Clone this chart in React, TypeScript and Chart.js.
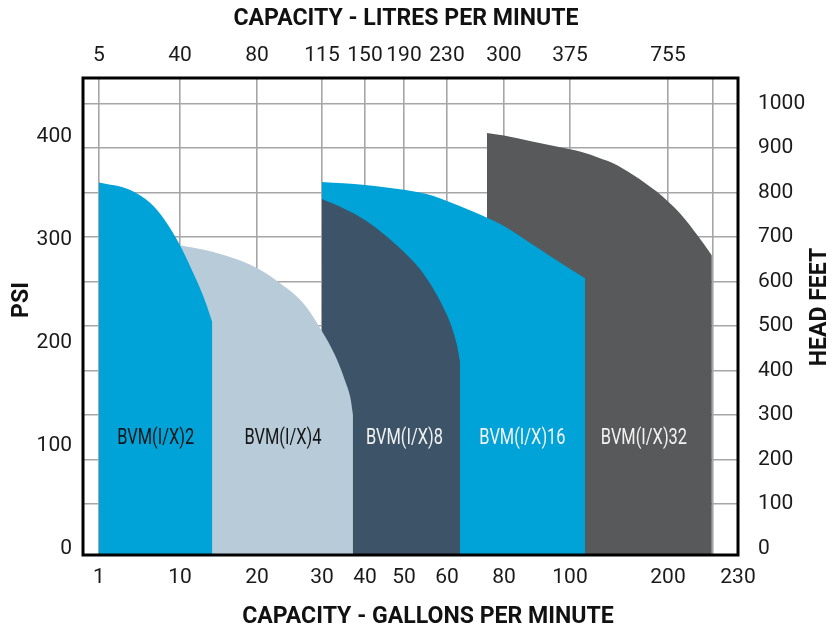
import React, { useEffect, useRef } from 'react';
import { Chart, LinearScale, registerables } from 'chart.js';

// ---------- data ----------
const X_TICKS_GPM = [1, 10, 20, 30, 40, 50, 60, 80, 100, 200, 220, 230];
const X_LABELS_GPM = ['1', '10', '20', '30', '40', '50', '60', '80', '100', '200', '', '230'];
const TOP_TICKS_GPM = [1, 10, 20, 30, 40, 50, 60, 80, 100, 200];
const TOP_LABELS_LPM = ['5', '40', '80', '115', '150', '190', '230', '300', '375', '755'];
const PSI_TICKS = [0, 100, 200, 300, 400];
const FEET_TICKS = [0, 100, 200, 300, 400, 500, 600, 700, 800, 900, 1000];

const BVM2_GPM = [1, 4.4, 6.7, 8.3, 10, 11.9, 13.2, 14.2];
const BVM2_PSI = [356, 349, 336, 319.6, 295, 265, 242, 220];

const BVM4_GPM = [10, 13.25, 16.5, 20, 23.5, 27.1, 29.7, 33.0, 35.3, 36.7, 37.2];
const BVM4_PSI = [295, 290.4, 283.6, 272.9, 258.3, 238.8, 214.5, 188.2, 163.9, 144.5, 129.9];

const BVM8_GPM = [30, 35.3, 40, 45.1, 50, 53.7, 56.7, 59.1, 61.4, 63.5, 64.6];
const BVM8_PSI = [340, 330.3, 319.6, 305, 288.4, 271.9, 253.4, 234.9, 217.4, 198, 181.4];

const BVM16_GPM = [30, 40, 50, 56.7, 60, 69.3, 80, 88.9, 99, 115.3];
const BVM16_PSI = [356.5, 353.6, 348.8, 343, 338, 327.6, 313.7, 295.2, 274, 262.8];

const BVM32_GPM = [74, 80, 88.9, 100, 110.2, 130.6, 144, 164.6, 188.5, 200, 205.3, 211.3, 215.7, 219.5];
const BVM32_PSI = [404, 401.6, 395.7, 388.3, 386, 379.6, 374.7, 363.3, 347.1, 337.4, 326, 309.8, 296.9, 285];

const SERIES_NAMES = ['BVM(I/X)2', 'BVM(I/X)4', 'BVM(I/X)8', 'BVM(I/X)16', 'BVM(I/X)32'];
const LABEL_GPM = [7.3, 24, 50.1, 85.6, 175.5];
const LABEL_PSI = [107, 107, 107, 107, 107];

const FEET_PER_PSI = 2.31;
const PSI_MIN = -6.3;
const PSI_MAX = 457.6;

// ---------- axis layout (piecewise gpm scale) ----------
const X_STOPS = [-0.8, 1, 10, 20, 30, 40, 50, 60, 80, 100, 200, 220, 230];
const X_STOP_DECIMALS = [0, 0.0244, 0.1481, 0.2656, 0.3649, 0.4305, 0.4901, 0.5557, 0.6427, 0.7435, 0.8931, 0.9618, 1];

function interp(v: number, from: number[], to: number[]) {
  const n = from.length - 1;
  let i = 1;
  while (i < n && v > from[i]) i++;
  const t = (v - from[i - 1]) / (from[i] - from[i - 1]);
  return to[i - 1] + t * (to[i] - to[i - 1]);
}

class PiecewiseScale extends LinearScale {
  static id = 'piecewise';
  static defaults = {};
  buildTicks() {
    (this as any).start = this.min;
    (this as any).end = this.max;
    const vals: number[] = (this.options as any).tickValues || [];
    return vals.map((v) => ({ value: v }));
  }
  getPixelForValue(value: number) {
    return this.getPixelForDecimal(interp(value, X_STOPS, X_STOP_DECIMALS));
  }
  getValueForPixel(pixel: number) {
    return interp(this.getDecimalForPixel(pixel), X_STOP_DECIMALS, X_STOPS);
  }
}

Chart.register(...registerables, PiecewiseScale as any);

const FONT = 'Roboto, "Liberation Sans", sans-serif';
const GRID = '#a6a6a8';

function pts(xs: number[], ys: number[]) {
  return xs.map((x, i) => ({ x, y: ys[i] }));
}

// draw text horizontally condensed so that it spans `width` px
function fitText(ctx: CanvasRenderingContext2D, text: string, x: number, y: number, sx: number) {
  ctx.save();
  ctx.translate(x, y);
  ctx.scale(sx, 1);
  ctx.fillText(text, 0, 0);
  ctx.restore();
}

const labelsPlugin = {
  id: 'seriesLabels',
  afterDatasetsDraw(chart: any) {
    const { ctx } = chart;
    const xs = chart.scales.x;
    const ys = chart.scales.y;
    const colors = ['#151515', '#151515', '#f2f2f2', '#f2f2f2', '#f2f2f2'];
    ctx.save();
    ctx.font = `22px ${FONT}`;
    ctx.textAlign = 'center';
    ctx.textBaseline = 'middle';
    const sx = 77 / ctx.measureText(SERIES_NAMES[0]).width;
    SERIES_NAMES.forEach((name, i) => {
      ctx.fillStyle = colors[i];
      fitText(ctx, name, xs.getPixelForValue(LABEL_GPM[i]), ys.getPixelForValue(LABEL_PSI[i]), sx);
    });
    ctx.restore();
  },
};

const framePlugin = {
  id: 'frameTitles',
  afterDraw(chart: any) {
    const { ctx, chartArea: a } = chart;
    ctx.save();
    ctx.strokeStyle = '#000';
    ctx.lineWidth = 3;
    ctx.strokeRect(a.left, a.top, a.right - a.left, a.bottom - a.top);
    ctx.fillStyle = '#111';
    ctx.font = `bold 24px ${FONT}`;
    ctx.textAlign = 'center';
    ctx.textBaseline = 'middle';
    const top = 'CAPACITY - LITRES PER MINUTE';
    const sx = 345 / ctx.measureText(top).width;
    fitText(ctx, top, 406, 19, sx);
    fitText(ctx, 'CAPACITY - GALLONS PER MINUTE', 428, 617, sx);
    ctx.save();
    ctx.translate(22, 300);
    ctx.rotate(-Math.PI / 2);
    fitText(ctx, 'PSI', 0, 0, sx);
    ctx.restore();
    ctx.save();
    ctx.translate(820, 307);
    ctx.rotate(-Math.PI / 2);
    fitText(ctx, 'HEAD FEET', 0, 0, sx);
    ctx.restore();
    ctx.restore();
  },
};

export default function App() {
  const ref = useRef<HTMLCanvasElement | null>(null);
  useEffect(() => {
    document.body.style.margin = '0';
    const canvas = ref.current;
    if (!canvas) return;
    const tickFont = { family: FONT, size: 21 };
    const chart = new Chart(canvas, {
      type: 'line',
      data: {
        datasets: [
          { label: SERIES_NAMES[0], data: pts(BVM2_GPM, BVM2_PSI), backgroundColor: '#00a3d8' },
          { label: SERIES_NAMES[1], data: pts(BVM4_GPM, BVM4_PSI), backgroundColor: '#b8cbd8' },
          { label: SERIES_NAMES[2], data: pts(BVM8_GPM, BVM8_PSI), backgroundColor: '#3d5367' },
          { label: SERIES_NAMES[3], data: pts(BVM16_GPM, BVM16_PSI), backgroundColor: '#00a3d8' },
          { label: SERIES_NAMES[4], data: pts(BVM32_GPM, BVM32_PSI), backgroundColor: '#58595b' },
        ].map((d) => ({
          ...d,
          fill: 'start',
          borderWidth: 0,
          borderColor: 'transparent',
          pointRadius: 0,
          cubicInterpolationMode: 'monotone',
          xAxisID: 'x',
          yAxisID: 'y',
        })) as any,
      },
      options: {
        animation: false,
        responsive: false,
        events: [],
        layout: { padding: 0 },
        plugins: { legend: { display: false }, tooltip: { enabled: false } },
        scales: {
          x: {
            type: 'piecewise' as any,
            position: 'bottom',
            min: -0.8,
            max: 230,
            tickValues: X_TICKS_GPM,
            z: 1,
            grid: { color: GRID, lineWidth: 1.6, drawTicks: false },
            border: { display: false },
            ticks: {
              autoSkip: false,
              maxRotation: 0,
              padding: 10,
              color: '#1a1a1a',
              font: tickFont,
              callback: (_v: any, i: number) => X_LABELS_GPM[i],
            },
            afterFit: (s: any) => { s.height = 75; },
          } as any,
          xTop: {
            type: 'piecewise' as any,
            position: 'top',
            min: -0.8,
            max: 230,
            tickValues: TOP_TICKS_GPM,
            grid: { display: false, drawTicks: false },
            border: { display: false },
            ticks: {
              autoSkip: false,
              maxRotation: 0,
              padding: 10,
              color: '#1a1a1a',
              font: tickFont,
              callback: (_v: any, i: number) => TOP_LABELS_LPM[i],
            },
            afterFit: (s: any) => { s.height = 78; },
          } as any,
          y: {
            type: 'linear',
            position: 'left',
            min: PSI_MIN,
            max: PSI_MAX,
            grid: { display: false, drawTicks: false },
            border: { display: false },
            afterBuildTicks: (s: any) => { s.ticks = PSI_TICKS.map((v) => ({ value: v })); },
            ticks: { padding: 11, color: '#1a1a1a', font: tickFont, callback: (v: any) => String(v) },
            afterFit: (s: any) => { s.width = 83; },
          },
          yR: {
            type: 'linear',
            position: 'right',
            min: PSI_MIN * FEET_PER_PSI,
            max: PSI_MAX * FEET_PER_PSI,
            z: 1,
            grid: {
              drawTicks: false,
              lineWidth: 1.6,
              color: (c: any) => (c.tick && c.tick.value === 0 ? 'rgba(0,0,0,0)' : GRID),
            },
            border: { display: false },
            afterBuildTicks: (s: any) => { s.ticks = FEET_TICKS.map((v) => ({ value: v })); },
            ticks: { padding: 20, color: '#1a1a1a', font: tickFont, callback: (v: any) => String(v) },
            afterFit: (s: any) => { s.width = 102; },
          },
        },
      } as any,
      plugins: [labelsPlugin, framePlugin],
    });
    return () => chart.destroy();
  }, []);
  return (
    <div style={{ width: 840, height: 630 }}>
      <canvas ref={ref} width={840} height={630} style={{ display: 'block' }} />
    </div>
  );
}
